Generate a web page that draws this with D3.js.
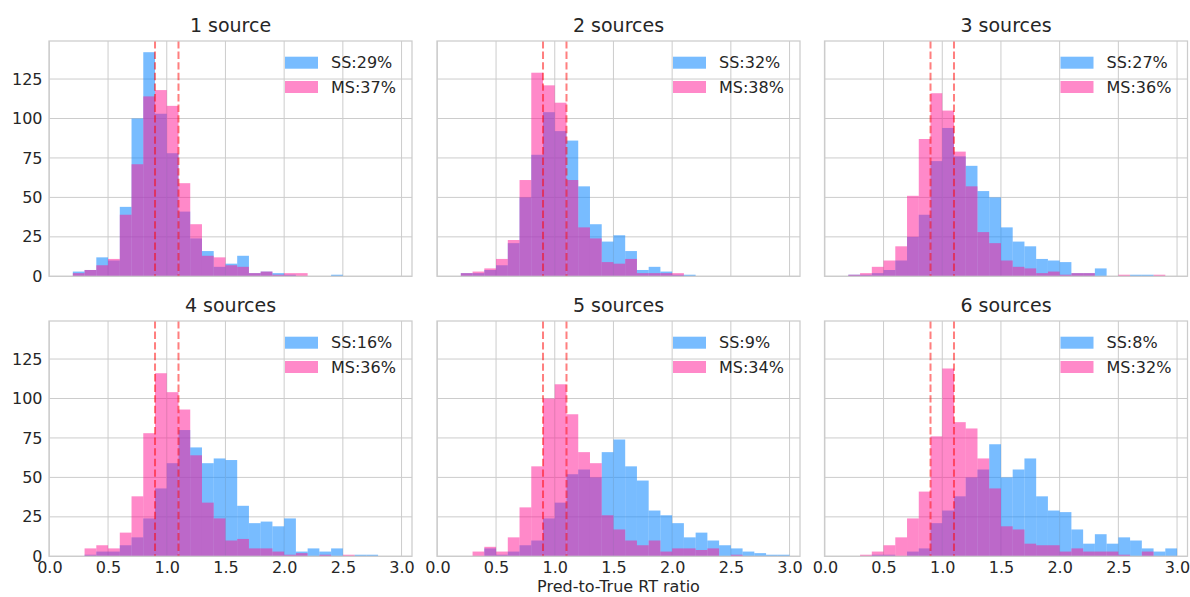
<!DOCTYPE html>
<html>
<head>
<meta charset="utf-8">
<script src="https://cdn.jsdelivr.net/npm/d3@7"></script>
<style>
  body { margin: 0; background: #ffffff; }
  svg text { font-family: "DejaVu Sans", sans-serif; fill: #262626; }
</style>
</head>
<body>
<div id="canvas"></div>
<script>
"use strict"
let svgWidth = 1190;
let svgHeight = 597;

// panel layout (2 rows x 3 columns)
let panelLefts = [49, 437, 824.5];
let panelTops = [41, 321];
let panelWidth = 363;
let panelHeight = 235.3;

// chart data
let titles = ["1 source", "2 sources", "3 sources", "4 sources", "5 sources", "6 sources"];
let ssPct = ["29%", "32%", "27%", "16%", "9%", "8%"];
let msPct = ["37%", "38%", "36%", "36%", "34%", "32%"];

// left edge of each histogram bin (width 0.1)
let binStarts = [0.0, 0.1, 0.2, 0.3, 0.4, 0.5, 0.6, 0.7, 0.8, 0.9,
                 1.0, 1.1, 1.2, 1.3, 1.4, 1.5, 1.6, 1.7, 1.8, 1.9,
                 2.0, 2.1, 2.2, 2.3, 2.4, 2.5, 2.6, 2.7, 2.8, 2.9];
let binWidth = 0.1;

// counts per bin, single-source (SS) model
let ss1 = [0, 0, 3, 4, 12, 10, 44, 100, 142, 103, 78, 41, 24, 16, 6, 8, 13, 2, 3, 2, 1, 0, 0, 0, 1, 0, 0, 0, 0, 0];
let ss2 = [0, 0, 2, 2, 4, 7, 21, 50, 77, 104, 92, 86, 57, 33, 22, 26, 16, 4, 6, 3, 1, 1, 0, 0, 0, 0, 0, 0, 0, 0];
let ss3 = [0, 0, 1, 1, 2, 4, 10, 25, 39, 73, 94, 76, 70, 54, 50, 31, 22, 19, 11, 10, 9, 2, 2, 5, 0, 0, 1, 1, 0, 0];
let ss4 = [0, 0, 0, 1, 3, 3, 7, 12, 24, 43, 59, 80, 69, 59, 62, 61, 32, 21, 22, 19, 24, 3, 5, 3, 5, 0, 1, 1, 0, 0];
let ss5 = [0, 0, 0, 0, 5, 1, 3, 7, 10, 24, 34, 52, 55, 50, 66, 74, 57, 48, 29, 26, 21, 12, 15, 10, 7, 5, 3, 2, 1, 1];
let ss6 = [0, 0, 0, 0, 1, 1, 0, 3, 5, 21, 29, 38, 50, 55, 71, 50, 55, 62, 38, 29, 28, 17, 8, 14, 8, 12, 10, 5, 3, 5];

// counts per bin, multi-source (MS) model
let ms1 = [0, 0, 2, 4, 7, 11, 39, 71, 114, 118, 108, 59, 33, 13, 12, 7, 6, 2, 3, 1, 2, 2, 0, 0, 0, 0, 0, 0, 0, 0];
let ms2 = [0, 0, 2, 3, 5, 11, 23, 61, 129, 121, 110, 61, 31, 24, 9, 8, 11, 2, 2, 2, 2, 0, 0, 0, 0, 0, 0, 0, 0, 0];
let ms3 = [0, 0, 1, 2, 6, 10, 19, 51, 87, 116, 105, 79, 57, 28, 21, 10, 6, 5, 2, 3, 1, 2, 2, 0, 0, 1, 0, 0, 1, 0];
let ms4 = [0, 0, 0, 5, 7, 5, 15, 38, 78, 116, 104, 93, 64, 34, 24, 10, 11, 5, 5, 3, 1, 2, 0, 1, 0, 1, 0, 0, 0, 0];
let ms5 = [0, 0, 0, 3, 6, 3, 12, 31, 57, 100, 109, 90, 66, 59, 26, 17, 10, 7, 10, 3, 5, 5, 4, 5, 0, 1, 0, 0, 0, 0];
let ms6 = [0, 0, 0, 1, 3, 7, 12, 24, 41, 76, 119, 85, 81, 62, 43, 19, 17, 8, 7, 7, 3, 5, 3, 3, 3, 1, 0, 3, 0, 0];

let ssCounts = [ss1, ss2, ss3, ss4, ss5, ss6];
let msCounts = [ms1, ms2, ms3, ms4, ms5, ms6];

// tolerance band shown as dashed lines
let bandLines = [0.9, 1.1];

let xTicks = [0.0, 0.5, 1.0, 1.5, 2.0, 2.5, 3.0];
let yTicks = [0, 25, 50, 75, 100, 125];

let ssColor = "#1E90FF";
let msColor = "#FF1493";
let gridColor = "#cccccc";

let svg = d3.select("#canvas")
    .append("svg")
    .attr("width", svgWidth)
    .attr("height", svgHeight);

// shared scales (same shape for every panel, shifted with a transform)
let xScale = d3.scaleLinear()
    .domain([-0.003, 3.089])
    .range([0, panelWidth]);
let yScale = d3.scaleLinear()
    .domain([0, 149.1])
    .range([panelHeight, 0]);

for (let p = 0; p < 6; p++) {
    let row = Math.floor(p / 3);
    let col = p % 3;
    let g = svg.append("g")
        .attr("transform", "translate(" + panelLefts[col] + "," + panelTops[row] + ")");

    // grid lines below the bars
    g.append("g").selectAll("line")
        .data(xTicks)
        .join("line")
        .attr("x1", function(d) { return xScale(d); })
        .attr("x2", function(d) { return xScale(d); })
        .attr("y1", 0)
        .attr("y2", panelHeight)
        .attr("stroke", gridColor)
        .attr("stroke-width", 1);
    g.append("g").selectAll("line")
        .data(yTicks)
        .join("line")
        .attr("x1", 0)
        .attr("x2", panelWidth)
        .attr("y1", function(d) { return yScale(d); })
        .attr("y2", function(d) { return yScale(d); })
        .attr("stroke", gridColor)
        .attr("stroke-width", 1);

    // SS bars first, MS bars drawn on top
    let ssData = binStarts.map(function(b, i) { return {x: b, n: ssCounts[p][i]}; });
    let msData = binStarts.map(function(b, i) { return {x: b, n: msCounts[p][i]}; });

    g.append("g").selectAll("rect")
        .data(ssData.filter(function(d) { return d.n > 0; }))
        .join("rect")
        .attr("x", function(d) { return xScale(d.x); })
        .attr("width", function(d) { return xScale(d.x + binWidth) - xScale(d.x); })
        .attr("y", function(d) { return yScale(d.n); })
        .attr("height", function(d) { return yScale(0) - yScale(d.n); })
        .attr("fill", ssColor)
        .attr("fill-opacity", 0.6);

    g.append("g").selectAll("rect")
        .data(msData.filter(function(d) { return d.n > 0; }))
        .join("rect")
        .attr("x", function(d) { return xScale(d.x); })
        .attr("width", function(d) { return xScale(d.x + binWidth) - xScale(d.x); })
        .attr("y", function(d) { return yScale(d.n); })
        .attr("height", function(d) { return yScale(0) - yScale(d.n); })
        .attr("fill", msColor)
        .attr("fill-opacity", 0.5);

    // dashed reference lines at 0.9 and 1.1
    g.append("g").selectAll("line")
        .data(bandLines)
        .join("line")
        .attr("x1", function(d) { return xScale(d); })
        .attr("x2", function(d) { return xScale(d); })
        .attr("y1", 0)
        .attr("y2", panelHeight)
        .attr("stroke", "red")
        .attr("stroke-opacity", 0.5)
        .attr("stroke-width", 2)
        .attr("stroke-dasharray", "7.4,3.2");

    // frame
    g.append("rect")
        .attr("width", panelWidth)
        .attr("height", panelHeight)
        .attr("fill", "none")
        .attr("stroke", gridColor)
        .attr("stroke-width", 1.25);

    // title
    g.append("text")
        .attr("x", panelWidth / 2)
        .attr("y", -9.5)
        .attr("text-anchor", "middle")
        .style("font-size", "19px")
        .text(titles[p]);

    // legend
    let legendItems = [
        {color: ssColor, opacity: 0.6, label: "SS:" + ssPct[p]},
        {color: msColor, opacity: 0.5, label: "MS:" + msPct[p]}
    ];
    for (let i = 0; i < legendItems.length; i++) {
        let yPosition = 21.7 + i * 24.3;
        g.append("rect")
            .attr("x", panelWidth - 127)
            .attr("y", yPosition - 6)
            .attr("width", 33)
            .attr("height", 12)
            .attr("fill", legendItems[i].color)
            .attr("fill-opacity", legendItems[i].opacity);
        g.append("text")
            .attr("x", panelWidth - 81)
            .attr("y", yPosition)
            .attr("dominant-baseline", "central")
            .style("font-size", "16px")
            .text(legendItems[i].label);
    }

    // y tick labels on the first column only
    if (col === 0) {
        let yAxis = g.append("g")
            .call(d3.axisLeft(yScale).tickValues(yTicks).tickSize(0).tickPadding(6.5));
        yAxis.select(".domain").remove();
        yAxis.selectAll("text")
            .style("font-size", "16px")
            .attr("fill", "#262626");
    }

    // x tick labels on the bottom row only
    if (row === 1) {
        let xAxis = g.append("g")
            .attr("transform", "translate(0," + panelHeight + ")")
            .call(d3.axisBottom(xScale).tickValues(xTicks).tickSize(0).tickPadding(5.5)
                .tickFormat(d3.format(".1f")));
        xAxis.select(".domain").remove();
        xAxis.selectAll("text")
            .style("font-size", "16px")
            .attr("fill", "#262626");
    }
}

// shared x-axis label under the middle panel
svg.append("text")
    .attr("x", panelLefts[1] + panelWidth / 2)
    .attr("y", 592)
    .attr("text-anchor", "middle")
    .style("font-size", "16px")
    .text("Pred-to-True RT ratio");
</script>
</body>
</html>
